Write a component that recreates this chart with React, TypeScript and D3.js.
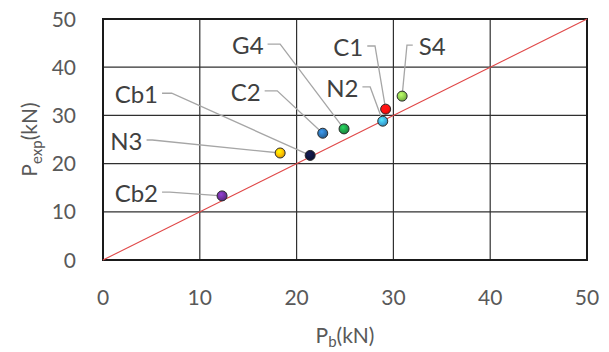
import React from "react";
import * as d3 from "d3";

// ---- data ----
const names = ["Cb2", "N3", "Cb1", "C2", "G4", "N2", "C1", "S4"];
const pb = [12.3, 18.3, 21.4, 22.7, 24.9, 28.9, 29.2, 30.9];
const pexp = [13.3, 22.2, 21.7, 26.3, 27.2, 28.8, 31.3, 34.0];
const colors = ["#7030a0", "#ffc000", "#0f1640", "#2e75b6", "#1fa34a", "#3fb0e0", "#ff1010", "#8fd04f"];
// label leader start (data units) and elbow x (data units)
const labelX = [6.1, 4.5, 6.1, 16.7, 17.0, 26.8, 27.3, 32.0];
const labelY = [14.1, 24.9, 34.6, 35.1, 44.8, 35.9, 44.4, 44.6];
const elbowX = [6.9, 5.1, 7.1, 18.0, 18.3, 27.6, 28.1, 31.4];
const labelSide = ["left", "left", "left", "left", "left", "left", "left", "right"];
const ticks = [0, 10, 20, 30, 40, 50];

const W = 609;
const H = 352;
const margin = { left: 103, right: 22, top: 19, bottom: 92 };

export default function App() {
  const x = d3.scaleLinear().domain([0, 50]).range([margin.left, W - margin.right]);
  const y = d3.scaleLinear().domain([0, 50]).range([H - margin.bottom, margin.top]);
  const font = "Lato, 'Open Sans', sans-serif";
  const line = d3.line<[number, number]>().x((d) => x(d[0])).y((d) => y(d[1]));

  return (
    <svg width={W} height={H} style={{ position: "absolute", left: 0, top: 0, background: "#fff" }} fontFamily={font}>
      <defs>
        {colors.map((c, i) => (
          <radialGradient key={i} id={`g${i}`} cx="40%" cy="35%" r="65%">
            <stop offset="0%" stopColor={d3.color(c)!.brighter(0.8).formatHex()} />
            <stop offset="60%" stopColor={c} />
            <stop offset="100%" stopColor={d3.color(c)!.darker(0.6).formatHex()} />
          </radialGradient>
        ))}
      </defs>
      {/* gridlines */}
      {ticks.slice(1, -1).map((t) => (
        <g key={t}>
          <line x1={x(t)} x2={x(t)} y1={y(0)} y2={y(50)} stroke="#303030" strokeWidth={1.2} />
          <line x1={x(0)} x2={x(50)} y1={y(t)} y2={y(t)} stroke="#303030" strokeWidth={1.2} />
        </g>
      ))}
      <rect x={x(0)} y={y(50)} width={x(50) - x(0)} height={y(0) - y(50)} fill="none" stroke="#1a1a1a" strokeWidth={2} />
      {/* 1:1 line */}
      <path d={line([[0, 0], [50, 50]])!} stroke="#e04848" strokeWidth={1.1} fill="none" />
      {/* tick labels */}
      {ticks.map((t) => (
        <text key={"y" + t} x={76} y={y(t)} dy="0.36em" textAnchor="end" fontSize={21} fill="#595959">
          {t}
        </text>
      ))}
      {ticks.map((t) => (
        <text key={"x" + t} x={x(t)} y={305} textAnchor="middle" fontSize={21} fill="#595959">
          {t}
        </text>
      ))}
      {/* axis titles */}
      <text x={(x(0) + x(50)) / 2} y={343} textAnchor="middle" fontSize={21} fill="#595959">
        P<tspan fontSize={15} dy={4}>b</tspan>
        <tspan dy={-4}>(kN)</tspan>
      </text>
      <text transform={`translate(37,${(y(0) + y(50)) / 2}) rotate(-90)`} textAnchor="middle" fontSize={21} fill="#595959">
        P<tspan fontSize={15} dy={5}>exp</tspan>
        <tspan dy={-5}>(kN)</tspan>
      </text>
      {/* leaders */}
      {names.map((n, i) => (
        <path
          key={"l" + n}
          d={line([[labelX[i], labelY[i]], [elbowX[i], labelY[i]], [pb[i], pexp[i]]])!}
          fill="none"
          stroke="#a6a6a6"
          strokeWidth={1.3}
        />
      ))}
      {/* labels */}
      {names.map((n, i) => (
        <text
          key={"t" + n}
          x={labelSide[i] === "left" ? x(labelX[i]) - 4 : x(labelX[i]) + 6}
          y={y(labelY[i]) + 10}
          textAnchor={labelSide[i] === "left" ? "end" : "start"}
          fontSize={24}
          fill="#404040"
        >
          {n}
        </text>
      ))}
      {/* points */}
      {names.map((n, i) => (
        <circle key={"p" + n} cx={x(pb[i])} cy={y(pexp[i])} r={5} fill={`url(#g${i})`} stroke="#2a2a2a" strokeWidth={1} />
      ))}
    </svg>
  );
}
